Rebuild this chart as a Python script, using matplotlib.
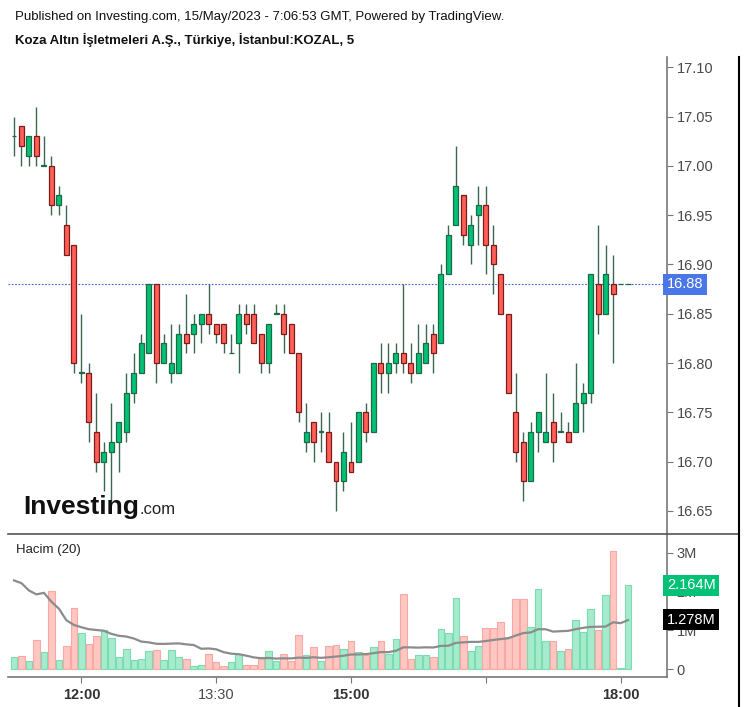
import numpy as np
import pandas as pd
from matplotlib import pyplot as plt
from matplotlib.lines import Line2D

plt.rcParams['font.family'] = ['Liberation Sans', 'DejaVu Sans']

# 5-minute candles from 11:15 to 18:05
times = pd.date_range("2023-05-15 11:15", periods=83, freq="5min")

opens = [17.03, 17.04, 17.01, 17.03, 17.00, 17.00, 16.96, 16.94, 16.92, 16.79,
         16.79, 16.73, 16.70, 16.71, 16.72, 16.73, 16.77, 16.79, 16.81, 16.88,
         16.80, 16.79, 16.79, 16.83, 16.83, 16.84, 16.85, 16.84, 16.84, 16.81,
         16.82, 16.85, 16.85, 16.83, 16.80, 16.85, 16.85, 16.84, 16.81, 16.72,
         16.74, 16.73, 16.73, 16.70, 16.68, 16.70, 16.70, 16.75, 16.73, 16.80,
         16.79, 16.80, 16.81, 16.80, 16.79, 16.80, 16.83, 16.82, 16.89, 16.94,
         16.97, 16.92, 16.95, 16.96, 16.92, 16.89, 16.85, 16.75, 16.72, 16.68,
         16.73, 16.72, 16.74, 16.73, 16.73, 16.73, 16.76, 16.77, 16.88, 16.85,
         16.88, 16.88, 16.88]
highs = [17.05, 17.04, 17.03, 17.06, 17.03, 17.01, 16.98, 16.96, 16.92, 16.85,
         16.80, 16.77, 16.72, 16.76, 16.74, 16.79, 16.81, 16.83, 16.88, 16.88,
         16.83, 16.84, 16.84, 16.87, 16.85, 16.85, 16.88, 16.84, 16.84, 16.83,
         16.86, 16.86, 16.86, 16.83, 16.84, 16.86, 16.86, 16.84, 16.81, 16.76,
         16.74, 16.75, 16.75, 16.70, 16.73, 16.74, 16.75, 16.76, 16.80, 16.82,
         16.82, 16.82, 16.88, 16.82, 16.84, 16.84, 16.84, 16.90, 16.94, 17.02,
         16.97, 16.95, 16.98, 16.98, 16.94, 16.89, 16.85, 16.79, 16.73, 16.74,
         16.75, 16.79, 16.77, 16.75, 16.74, 16.80, 16.78, 16.89, 16.94, 16.92,
         16.91, 16.88, 16.88]
lows = [17.01, 17.00, 17.00, 17.00, 17.00, 16.95, 16.95, 16.91, 16.79, 16.78,
        16.72, 16.69, 16.67, 16.66, 16.69, 16.72, 16.76, 16.79, 16.81, 16.78,
        16.80, 16.78, 16.79, 16.81, 16.81, 16.82, 16.83, 16.82, 16.81, 16.81,
        16.79, 16.83, 16.82, 16.79, 16.79, 16.85, 16.81, 16.81, 16.74, 16.71,
        16.70, 16.71, 16.70, 16.65, 16.67, 16.69, 16.70, 16.72, 16.73, 16.77,
        16.77, 16.79, 16.79, 16.78, 16.79, 16.80, 16.79, 16.82, 16.89, 16.94,
        16.92, 16.90, 16.92, 16.89, 16.87, 16.85, 16.77, 16.70, 16.66, 16.68,
        16.71, 16.72, 16.70, 16.73, 16.72, 16.73, 16.73, 16.76, 16.83, 16.85,
        16.80, 16.88, 16.88]
closes = [17.03, 17.02, 17.03, 17.01, 17.00, 16.96, 16.97, 16.91, 16.80, 16.79,
          16.74, 16.70, 16.71, 16.72, 16.74, 16.77, 16.79, 16.82, 16.88, 16.80,
          16.82, 16.80, 16.83, 16.82, 16.84, 16.85, 16.84, 16.83, 16.82, 16.81,
          16.85, 16.84, 16.82, 16.80, 16.84, 16.85, 16.83, 16.81, 16.75, 16.73,
          16.72, 16.73, 16.70, 16.68, 16.71, 16.69, 16.75, 16.73, 16.80, 16.79,
          16.80, 16.81, 16.80, 16.79, 16.81, 16.82, 16.81, 16.89, 16.93, 16.98,
          16.93, 16.94, 16.96, 16.92, 16.90, 16.85, 16.77, 16.71, 16.68, 16.73,
          16.75, 16.73, 16.72, 16.73, 16.72, 16.76, 16.77, 16.89, 16.85, 16.89,
          16.87, 16.88, 16.88]
# volume in millions
volume = [0.31, 0.34, 0.21, 0.75, 0.44, 2.03, 0.24, 0.60, 1.59, 0.94,
          0.65, 0.85, 1.01, 0.79, 0.31, 0.53, 0.24, 0.27, 0.47, 0.50,
          0.24, 0.50, 0.31, 0.26, 0.085, 0.11, 0.39, 0.18, 0.085, 0.17,
          0.39, 0.11, 0.11, 0.31, 0.47, 0.21, 0.39, 0.21, 0.88, 0.36,
          0.56, 0.21, 0.60, 0.62, 0.53, 0.73, 0.43, 0.36, 0.56, 0.73,
          0.38, 0.78, 1.93, 0.26, 0.36, 0.36, 0.30, 1.03, 0.94, 1.84,
          0.85, 0.46, 0.59, 1.07, 1.07, 1.21, 0.82, 1.80, 1.80, 1.08,
          2.06, 0.73, 0.73, 0.47, 0.53, 1.26, 0.95, 1.55, 1.01, 1.91,
          3.06, 0.02, 2.164]
# MA(20) values for the first bars (window reaches into the previous session)
vol_ma_head = [2.29, 2.22, 2.03, 1.93, 1.97, 1.74, 1.56, 1.26, 1.14, 1.08,
               1.03, 1.01, 0.99, 0.91, 0.86, 0.84, 0.79, 0.71, 0.69]

price_ticks = [16.65, 16.70, 16.75, 16.80, 16.85, 16.90, 16.95, 17.00, 17.05, 17.10]
time_ticks = ["12:00", "13:30", "15:00", "16:30", "18:00"]
time_labels = ["12:00", "13:30", "15:00", "", "18:00"]
time_bold = [True, False, True, False, True]
last_price = 16.88
last_volume = 2.164
last_ma = 1.278

o = np.array(opens)
c = np.array(closes)
h = np.array(highs)
l = np.array(lows)
v = np.array(volume)
x = np.arange(len(times))
up = c >= o

ma = pd.Series(v).rolling(20).mean().to_numpy()
ma[:len(vol_ma_head)] = vol_ma_head

W, H = 747, 707
fig = plt.figure(figsize=(W / 100, H / 100), dpi=100)
left, right = 8 / W, 667 / W
ax = fig.add_axes([left, (H - 534) / H, right - left, (534 - 57) / H])
axv = fig.add_axes([left, (H - 677) / H, right - left, (677 - 534) / H], sharex=ax)

axis_col = '#777777'
text_col = '#4a4a4a'

# price candles
green, green_edge = '#00c176', '#1d6a44'
red, red_edge = '#ff5f55', '#7a1c1c'
wick = '#3b6651'
ax.vlines(x, l, h, color=wick, linewidth=1.0, zorder=2)
body = np.where(np.abs(c - o) < 1e-9, 0.0006, c - o)
ax.bar(x, body, bottom=o, width=0.66,
       color=np.where(up, green, red), edgecolor=np.where(up, green_edge, red_edge),
       linewidth=0.9, zorder=3)
ax.axhline(last_price, color='#3d5fd6', linestyle=(0, (1.5, 1.5)), linewidth=0.8, zorder=1)

ax.set_ylim(16.6266, 17.1105)
ax.set_xlim(-0.8, 87.2)
ax.yaxis.tick_right()
ax.set_yticks(price_ticks)
ax.set_yticklabels([f"{t:.2f}" for t in price_ticks])
ax.tick_params(axis='y', colors=axis_col, labelcolor=text_col, labelsize=10.5, length=4, pad=3)
ax.tick_params(axis='x', bottom=False, labelbottom=False)
for s in ['left', 'top', 'bottom']:
    ax.spines[s].set_visible(False)
ax.spines['right'].set_color(axis_col)
ax.spines['right'].set_linewidth(1.2)
ax.text(1.0, last_price, f"{last_price:.2f}", transform=ax.get_yaxis_transform(),
        ha='left', va='center', color='white', fontsize=10.5,
        bbox=dict(boxstyle='square,pad=0.25', fc='#4a76e8', ec='none'), zorder=10, clip_on=False)

# volume
axv.bar(x, v, width=0.88, color=np.where(up, '#a6ebcd', '#ffc6c2'),
        edgecolor=np.where(up, '#7bdcb0', '#f8a9a3'), linewidth=0.8, zorder=2)
axv.plot(x, ma, color='#8c8c8c', linewidth=1.6, zorder=3)
axv.set_ylim(-0.205, 3.49)
axv.yaxis.tick_right()
axv.set_yticks([0, 1, 2, 3])
axv.set_yticklabels(["0", "1M", "2M", "3M"])
axv.tick_params(axis='y', colors=axis_col, labelcolor=text_col, labelsize=10.5, length=4, pad=3)
for s in ['left', 'top']:
    axv.spines[s].set_visible(False)
for s in ['right', 'bottom']:
    axv.spines[s].set_color(axis_col)
    axv.spines[s].set_linewidth(1.2)

tick_x = [int(np.where(times.strftime("%H:%M") == t)[0][0]) for t in time_ticks]
axv.set_xticks(tick_x)
axv.set_xticklabels(time_labels)
axv.tick_params(axis='x', colors=axis_col, labelcolor=text_col, labelsize=10.5, length=4, pad=4)
for lab, b in zip(axv.get_xticklabels(), time_bold):
    if b:
        lab.set_fontweight('bold')
        lab.set_color('#333333')

axv.text(0.012, 0.93, "Hacim (20)", transform=axv.transAxes, fontsize=9.5,
         color='#222222', ha='left', va='top')
axv.text(1.0, last_volume, f"{last_volume:.3f}M", transform=axv.get_yaxis_transform(),
         ha='left', va='center', color='white', fontsize=10.5,
         bbox=dict(boxstyle='square,pad=0.25', fc='#00c176', ec='none'), zorder=10, clip_on=False)
axv.text(1.0, last_ma, f"{last_ma:.3f}M", transform=axv.get_yaxis_transform(),
         ha='left', va='center', color='white', fontsize=10.5,
         bbox=dict(boxstyle='square,pad=0.25', fc='black', ec='none'), zorder=10, clip_on=False)

# separators and frame
fig.add_artist(Line2D([8 / W, 739 / W], [(H - 534) / H] * 2, color='#555555', linewidth=1.2))
fig.add_artist(Line2D([739 / W] * 2, [0, (H - 57) / H], color='black', linewidth=1.5))

# header
fig.text(15 / W, 1 - 17 / H, "Published on Investing.com, 15/May/2023 - 7:06:53 GMT, Powered by TradingView.",
         fontsize=9.5, color='#111111', ha='left', va='center')
fig.text(15 / W, 1 - 40 / H, "Koza Altın İşletmeleri A.Ş., Türkiye, İstanbul:KOZAL, 5",
         fontsize=9.5, fontweight='bold', color='#111111', ha='left', va='center')

# watermark logo
logo = fig.text(23 / W, 1 - 514 / H, "Investing", fontsize=19, fontweight='bold', color='#111111',
                ha='left', va='baseline', zorder=20)
fig.canvas.draw()
bb = logo.get_window_extent()
fig.text((bb.x1 + 1) / W, 1 - 514 / H, ".com", fontsize=12, color='#222222',
         ha='left', va='baseline', zorder=20)

fig.savefig("out.png", dpi=100, facecolor='white')
